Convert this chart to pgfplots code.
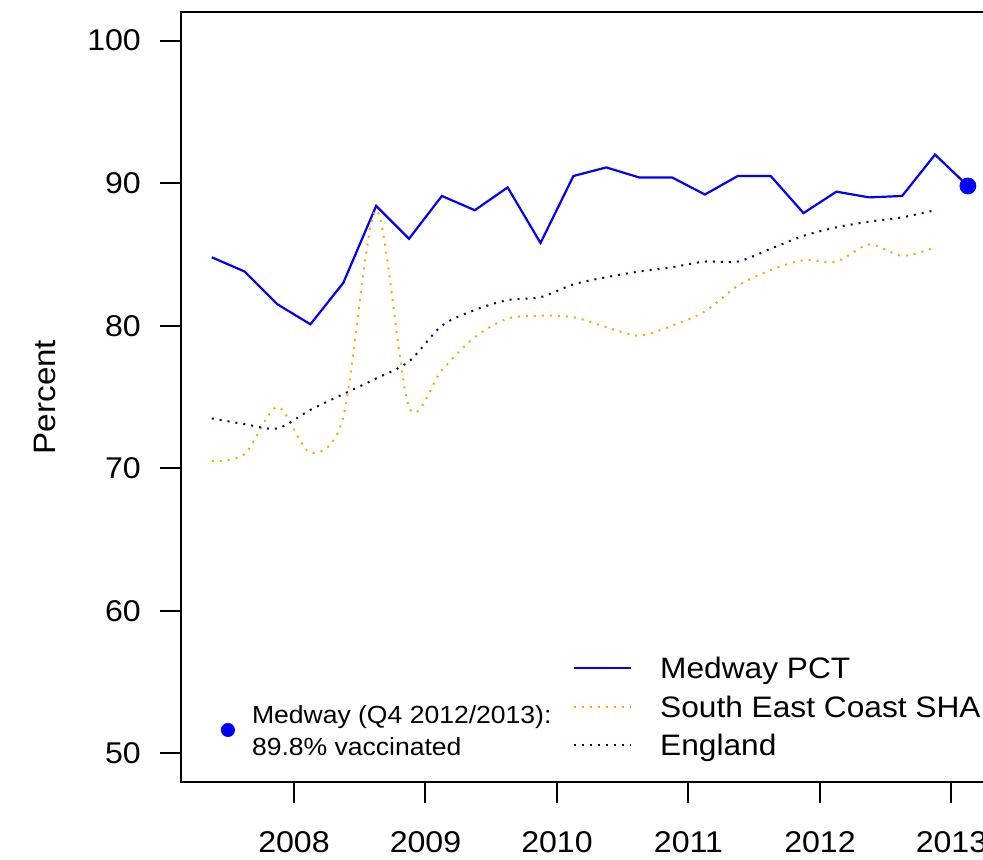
\documentclass[border=0pt]{standalone}
\usepackage{fontspec}
\setmainfont{Liberation Sans}[FakeStretch=1.07]
\usepackage{pgfplots}
\pgfplotsset{compat=1.18}
\definecolor{rorange}{RGB}{255,165,0}
\definecolor{rnavy}{RGB}{0,0,128}
\begin{document}
\begin{tikzpicture}
\useasboundingbox (-90.5pt,-38.5pt) rectangle (401pt,391pt);
\begin{pgfinterruptboundingbox}
\clip (-90.5pt,-38.5pt) rectangle (401pt,391pt);
\begin{axis}[
  at={(0pt,0pt)}, anchor=south west,
  scale only axis, width=408.5pt, height=385pt,
  xmin=2007.141, xmax=2013.354, ymin=48, ymax=102,
  xtick={2008,2009,2010,2011,2012,2013},
  ytick={50,60,70,80,90,100},
  tick pos=left, tick align=outside,
  major tick length=10.5pt,
  axis line style={line width=1pt},
  every tick/.style={black, line width=1pt},
  /pgf/number format/assume math mode=true,
  /pgf/number format/1000 sep={},
  tick label style={font=\fontsize{15}{18}\selectfont, inner sep=0pt},
  xticklabel shift=14pt,
  yticklabel shift=9.4pt,
  ylabel={Percent},
  ylabel style={font=\fontsize{15.5}{18}\selectfont, at={(axis description cs:-0.1542,0.5)}, anchor=base},
  legend style={draw=none, fill=none, at={(0.4798,0.1616)}, anchor=north west,
    inner sep=0pt, outer sep=0pt, row sep=8.85pt,
    font=\fontsize{14.8}{17}\selectfont,
    nodes={inner sep=0pt, text height=10.5pt, text depth=0pt, anchor=west},
    /tikz/every odd column/.append style={column sep=14pt}},
  legend image code/.code={\draw[#1, sharp plot] (0pt,0pt) -- (28.5pt,0pt);},
]
\addplot[blue, line width=1.1pt, mark=none] coordinates {
(2007.375,84.8) (2007.625,83.8) (2007.875,81.5) (2008.125,80.1) (2008.375,83.0) (2008.625,88.4)
(2008.875,86.1) (2009.125,89.1) (2009.375,88.1) (2009.625,89.7) (2009.875,85.8) (2010.125,90.5)
(2010.375,91.1) (2010.625,90.4) (2010.875,90.4) (2011.125,89.2) (2011.375,90.5) (2011.625,90.5)
(2011.875,87.9) (2012.125,89.4) (2012.375,89.0) (2012.625,89.1) (2012.875,92.0) (2013.125,89.8)
};
\addlegendentry{Medway PCT}
\addplot[rorange, line width=1pt, dash pattern=on 1pt off 3pt, smooth, mark=none] coordinates {
(2007.375,70.5) (2007.625,71.0) (2007.875,74.3) (2008.125,71.1) (2008.375,73.6) (2008.625,88.1)
(2008.875,74.3) (2009.125,76.9) (2009.375,79.2) (2009.625,80.5) (2009.875,80.7) (2010.125,80.6)
(2010.375,79.9) (2010.625,79.3) (2010.875,80.0) (2011.125,81.0) (2011.375,82.8) (2011.625,83.9)
(2011.875,84.6) (2012.125,84.5) (2012.375,85.7) (2012.625,84.9) (2012.875,85.5)
};
\addlegendentry{South East Coast SHA}
\addplot[rnavy, line width=1pt, dash pattern=on 1pt off 3pt, smooth, mark=none] coordinates {
(2007.375,73.5) (2007.625,73.1) (2007.875,72.8) (2008.125,74.1) (2008.375,75.2) (2008.625,76.3)
(2008.875,77.5) (2009.125,80.0) (2009.375,81.1) (2009.625,81.8) (2009.875,82.0) (2010.125,82.9)
(2010.375,83.4) (2010.625,83.8) (2010.875,84.1) (2011.125,84.5) (2011.375,84.5) (2011.625,85.4)
(2011.875,86.3) (2012.125,86.9) (2012.375,87.3) (2012.625,87.6) (2012.875,88.1)
};
\addlegendentry{England}
\addplot[blue, only marks, mark=*, mark size=4pt, forget plot] coordinates {(2013.125,89.8)};
\addplot[blue, only marks, mark=*, mark size=3.3pt, forget plot] coordinates {(2007.498,51.65)};
\node[anchor=base west, inner sep=0pt, font=\fontsize{12.4}{15}\selectfont] at (axis cs:2007.678,52.12) {Medway (Q4 2012/2013):};
\node[anchor=base west, inner sep=0pt, font=\fontsize{12.4}{15}\selectfont] at (axis cs:2007.678,49.89) {89.8\% vaccinated};
\end{axis}
\end{pgfinterruptboundingbox}
\end{tikzpicture}
\end{document}
